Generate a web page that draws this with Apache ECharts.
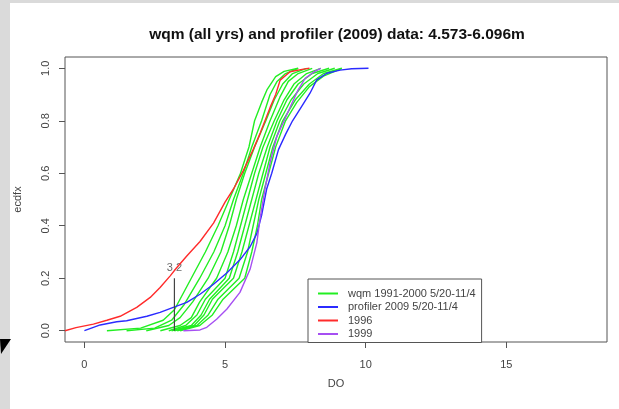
<!DOCTYPE html>
<html>
<head>
<meta charset="utf-8">
<script src="https://cdn.jsdelivr.net/npm/echarts@6/dist/echarts.min.js"></script>
<style>
  html, body { margin: 0; padding: 0; background: #fff; }
  #chart { width: 619px; height: 409px; }
</style>
</head>
<body>
<div id="chart"></div>
<script>
// tick positions
var xTicks = [0, 5, 10, 15];
var yTicks = [0, 0.2, 0.4, 0.6, 0.8, 1.0];

// wqm 1991-2000 ecdf curves (one array per year)
var wqm1 = [[0.8,0],[2.0,0.01],[2.8,0.04],[3.2,0.08],[3.8,0.2],[4.3,0.3],[4.75,0.4],[5.15,0.5],[5.55,0.6],[5.85,0.7],[6.05,0.8],[6.3,0.87],[6.5,0.92],[6.8,0.968],[7.1,0.988],[7.6,1.0]];
var wqm2 = [[1.5,0],[2.5,0.01],[3.1,0.04],[3.55,0.1],[4.1,0.2],[4.6,0.3],[5.0,0.4],[5.3,0.5],[5.65,0.6],[5.95,0.7],[6.3,0.8],[6.6,0.9],[6.85,0.95],[7.15,0.98],[7.6,1.0]];
var wqm3 = [[2.2,0],[3.0,0.02],[3.4,0.05],[3.85,0.11],[4.4,0.2],[4.85,0.3],[5.15,0.4],[5.4,0.5],[5.7,0.6],[6.05,0.7],[6.45,0.8],[6.75,0.88],[7.05,0.94],[7.4,0.98],[7.9,1.0]];
var wqm4 = [[2.7,0],[3.4,0.02],[3.8,0.05],[4.1,0.11],[4.7,0.2],[5.1,0.3],[5.4,0.4],[5.65,0.5],[5.95,0.6],[6.25,0.7],[6.6,0.8],[6.95,0.89],[7.25,0.95],[7.6,0.98],[8.1,1.0]];
var wqm5 = [[3.0,0],[3.6,0.02],[4.0,0.06],[4.3,0.12],[5.0,0.2],[5.3,0.3],[5.55,0.4],[5.8,0.5],[6.05,0.6],[6.35,0.7],[6.75,0.8],[7.1,0.88],[7.45,0.94],[7.9,0.98],[8.4,1.0]];
var wqm6 = [[3.1,0],[3.8,0.02],[4.15,0.06],[4.45,0.12],[5.15,0.2],[5.45,0.3],[5.7,0.4],[5.95,0.5],[6.2,0.6],[6.5,0.7],[6.85,0.8],[7.2,0.88],[7.6,0.94],[8.1,0.98],[8.7,1.0]];
var wqm7 = [[3.2,0],[3.9,0.02],[4.25,0.06],[4.55,0.12],[5.3,0.2],[5.6,0.3],[5.85,0.4],[6.1,0.5],[6.35,0.6],[6.6,0.7],[6.95,0.8],[7.35,0.88],[7.8,0.94],[8.3,0.98],[8.9,1.0]];
var wqm8 = [[3.3,0],[4.0,0.02],[4.4,0.06],[4.75,0.12],[5.5,0.2],[5.8,0.3],[6.0,0.4],[6.2,0.5],[6.45,0.6],[6.7,0.7],[7.05,0.8],[7.5,0.88],[8.0,0.94],[8.5,0.98],[9.15,1.0]];
var wqm9 = [[3.4,0],[4.1,0.02],[4.55,0.06],[4.93,0.12],[5.7,0.2],[5.95,0.3],[6.15,0.4],[6.3,0.5],[6.55,0.6],[6.8,0.7],[7.15,0.8],[7.55,0.87],[8.0,0.93],[8.5,0.97],[9.15,1.0]];

// profiler 2009
var profiler2009 = [[0,0],[0.32,0.013],[0.56,0.022],[1.15,0.034],[1.5,0.038],[2.22,0.055],[2.69,0.07],[3.16,0.089],[3.64,0.108],[4.11,0.139],[4.59,0.177],[5.06,0.22],[5.53,0.27],[5.89,0.32],[6.13,0.37],[6.3,0.44],[6.48,0.54],[6.66,0.6],[6.9,0.69],[7.16,0.75],[7.4,0.8],[7.67,0.845],[8.02,0.905],[8.26,0.956],[8.62,0.981],[9.09,0.993],[9.5,0.998],[10.1,1.0]];

// 1996
var wqm1996 = [[-0.69,0],[-0.3,0.012],[0.32,0.025],[0.8,0.04],[1.27,0.055],[1.86,0.089],[2.34,0.127],[2.69,0.165],[3.05,0.209],[3.28,0.24],[3.64,0.285],[4.11,0.34],[4.59,0.41],[5.0,0.49],[5.3,0.54],[5.65,0.61],[6.0,0.69],[6.25,0.753],[6.6,0.85],[6.8,0.9],[6.96,0.955],[7.31,0.987],[7.79,0.997],[8.0,1.0]];

// 1999
var wqm1999 = [[3.52,0],[4.11,0.003],[4.35,0.013],[4.7,0.044],[5.06,0.082],[5.53,0.146],[5.89,0.234],[6.13,0.335],[6.24,0.424],[6.42,0.54],[6.6,0.64],[6.84,0.74],[7.1,0.8],[7.35,0.86],[7.6,0.918],[7.85,0.962],[8.14,0.985],[8.4,1.0]];

// marker at DO = 3.2
var markX = 3.2;
var markTop = 0.2;

var greenName = "wqm 1991-2000 5/20-11/4";
var wqmYears = [wqm1, wqm2, wqm3, wqm4, wqm5, wqm6, wqm7, wqm8, wqm9];

var myChart = echarts.init(document.getElementById("chart"));

var series = [];
wqmYears.forEach(function (d) {
  series.push({
    name: greenName,
    type: "line",
    data: d,
    showSymbol: false,
    lineStyle: { color: "#22ee22", width: 1.4 },
    itemStyle: { color: "#22ee22" },
  });
});
series.push({
  name: "profiler 2009 5/20-11/4",
  type: "line",
  data: profiler2009,
  showSymbol: false,
  lineStyle: { color: "#2b2bff", width: 1.4 },
  itemStyle: { color: "#2b2bff" },
});
series.push({
  name: "1996",
  type: "line",
  data: wqm1996,
  showSymbol: false,
  lineStyle: { color: "#ff2b2b", width: 1.4 },
  itemStyle: { color: "#ff2b2b" },
});
series.push({
  name: "1999",
  type: "line",
  data: wqm1999,
  showSymbol: false,
  lineStyle: { color: "#a64ff2", width: 1.4 },
  itemStyle: { color: "#a64ff2" },
});
series.push({
  name: "mark",
  type: "line",
  data: [[markX, 0], [markX, markTop]],
  showSymbol: false,
  lineStyle: { color: "#444", width: 1.2 },
});
// label above the marker line
series.push({
  name: "markLabel",
  type: "scatter",
  data: [[markX, markTop]],
  symbolSize: 1,
  itemStyle: { color: "rgba(0,0,0,0)" },
  label: {
    show: true,
    position: "top",
    formatter: String(markX),
    color: "#444",
    fontSize: 11,
    distance: 4,
  },
});

myChart.setOption({
  animation: false,
  backgroundColor: "#fff",
  textStyle: { fontFamily: "Liberation Sans" },
  title: {
    text: "wqm (all yrs) and profiler (2009) data: 4.573-6.096m",
    left: 332,
    textAlign: "center",
    top: 22,
    textStyle: { fontSize: 15.5, fontWeight: "bold", color: "#111", fontFamily: "Liberation Sans" },
  },
  legend: {
    data: [greenName, "profiler 2009 5/20-11/4", "1996", "1999"],
    orient: "vertical",
    left: 308,
    top: 279,
    padding: [8, 6, 2, 10],
    itemWidth: 20,
    itemHeight: 2,
    itemGap: 0.5,
    icon: "rect",
    borderColor: "#555",
    borderWidth: 1,
    backgroundColor: "#fff",
    textStyle: { fontSize: 11, color: "#444", lineHeight: 13, padding: [0, 0, 0, 5] },
  },
  graphic: [
    { type: "rect", shape: { x: 0, y: 0, width: 619, height: 3 }, style: { fill: "#dadada" }, silent: true },
    { type: "rect", shape: { x: 0, y: 0, width: 10, height: 409 }, style: { fill: "#dadada" }, silent: true },
    { type: "polygon", shape: { points: [[0, 339], [11, 339], [1, 354]] }, style: { fill: "#000" }, silent: true },
  ],
  grid: {
    left: 65,
    right: 12,
    top: 57,
    bottom: 67,
    show: true,
    borderColor: "#555",
    borderWidth: 1,
  },
  xAxis: {
    type: "value",
    min: -0.69,
    max: 18.58,
    name: "DO",
    nameLocation: "middle",
    nameGap: 36,
    nameTextStyle: { fontSize: 11, color: "#444" },
    splitLine: { show: false },
    axisLine: { show: false, onZero: false },
    axisTick: { show: true, customValues: xTicks, length: 6, lineStyle: { color: "#555" } },
    axisLabel: { customValues: xTicks, margin: 17, fontSize: 11, color: "#444" },
  },
  yAxis: {
    type: "value",
    min: -0.043,
    max: 1.043,
    name: "ecdfx",
    nameLocation: "middle",
    nameGap: 42,
    nameRotate: 90,
    nameTextStyle: { fontSize: 11, color: "#444" },
    splitLine: { show: false },
    axisLine: { show: false, onZero: false },
    axisTick: { show: true, customValues: yTicks, length: 6, lineStyle: { color: "#555" } },
    axisLabel: {
      customValues: yTicks,
      rotate: 90,
      margin: 14,
      fontSize: 11,
      color: "#444",
      formatter: function (v) { return v.toFixed(1); },
    },
  },
  series: series,
});
</script>
</body>
</html>
